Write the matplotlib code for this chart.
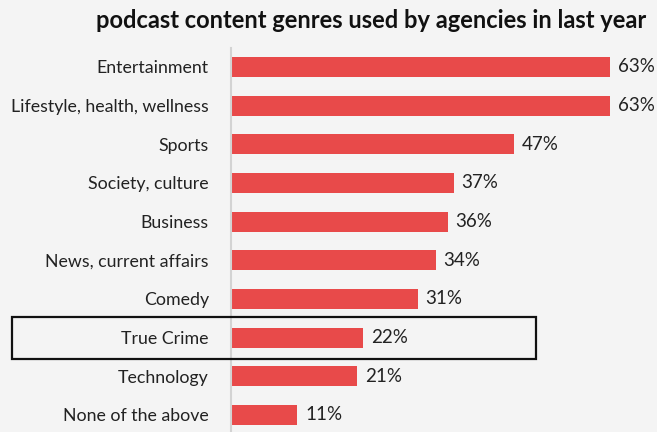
import matplotlib
matplotlib.use("Agg")
import matplotlib.pyplot as plt
from matplotlib.patches import Rectangle

categories = ["Entertainment", "Lifestyle, health, wellness", "Sports", "Society, culture",
              "Business", "News, current affairs", "Comedy", "True Crime",
              "Technology", "None of the above"]
values = [63, 63, 47, 37, 36, 34, 31, 22, 21, 11]
highlight = "True Crime"

BG = "#F4F4F4"
BAR = "#E84A4A"

plt.rcParams["font.family"] = ["Lato", "DejaVu Sans"]

W, H = 657, 432
fig = plt.figure(figsize=(W / 100, H / 100), dpi=100, facecolor=BG)

left_px, top_px = 231, 48
ax = fig.add_axes([left_px / W, 0, (W - left_px) / W, (H - top_px) / H])
ax.set_facecolor(BG)

ypos = list(range(len(categories)))
ax.barh(ypos, values, height=0.52, color=BAR, zorder=2)
ax.set_xlim(0, (W - left_px) / 6.02)
ax.set_ylim(9.44, -0.49)

for y, v in zip(ypos, values):
    ax.text(v + 1.3, y, f"{v}%", va="center", ha="left", fontsize=13.5, color="#222222")

ax.set_yticks(ypos)
ax.set_yticklabels(categories, fontsize=12.8, color="#222222")
ax.tick_params(axis="y", length=0, pad=16)
ax.set_xticks([])
for s in ["top", "right", "bottom"]:
    ax.spines[s].set_visible(False)
ax.spines["left"].set_color("#D3D3D3")
ax.spines["left"].set_linewidth(1.5)

fig.text(371 / W, 1 - 20 / H, "podcast content genres used by agencies in last year",
         ha="center", va="center", fontsize=17, fontweight="bold", color="#111111")

# outline around the highlighted row
hi = categories.index(highlight)
yc = 67 + hi * 38.67
box = Rectangle((12 / W, 1 - (yc + 21) / H), (536 - 12) / W, 42 / H,
                transform=fig.transFigure, fill=False, edgecolor="#111111",
                linewidth=1.6, zorder=5)
fig.patches.append(box)

fig.savefig("out.png", dpi=100, facecolor=BG)
